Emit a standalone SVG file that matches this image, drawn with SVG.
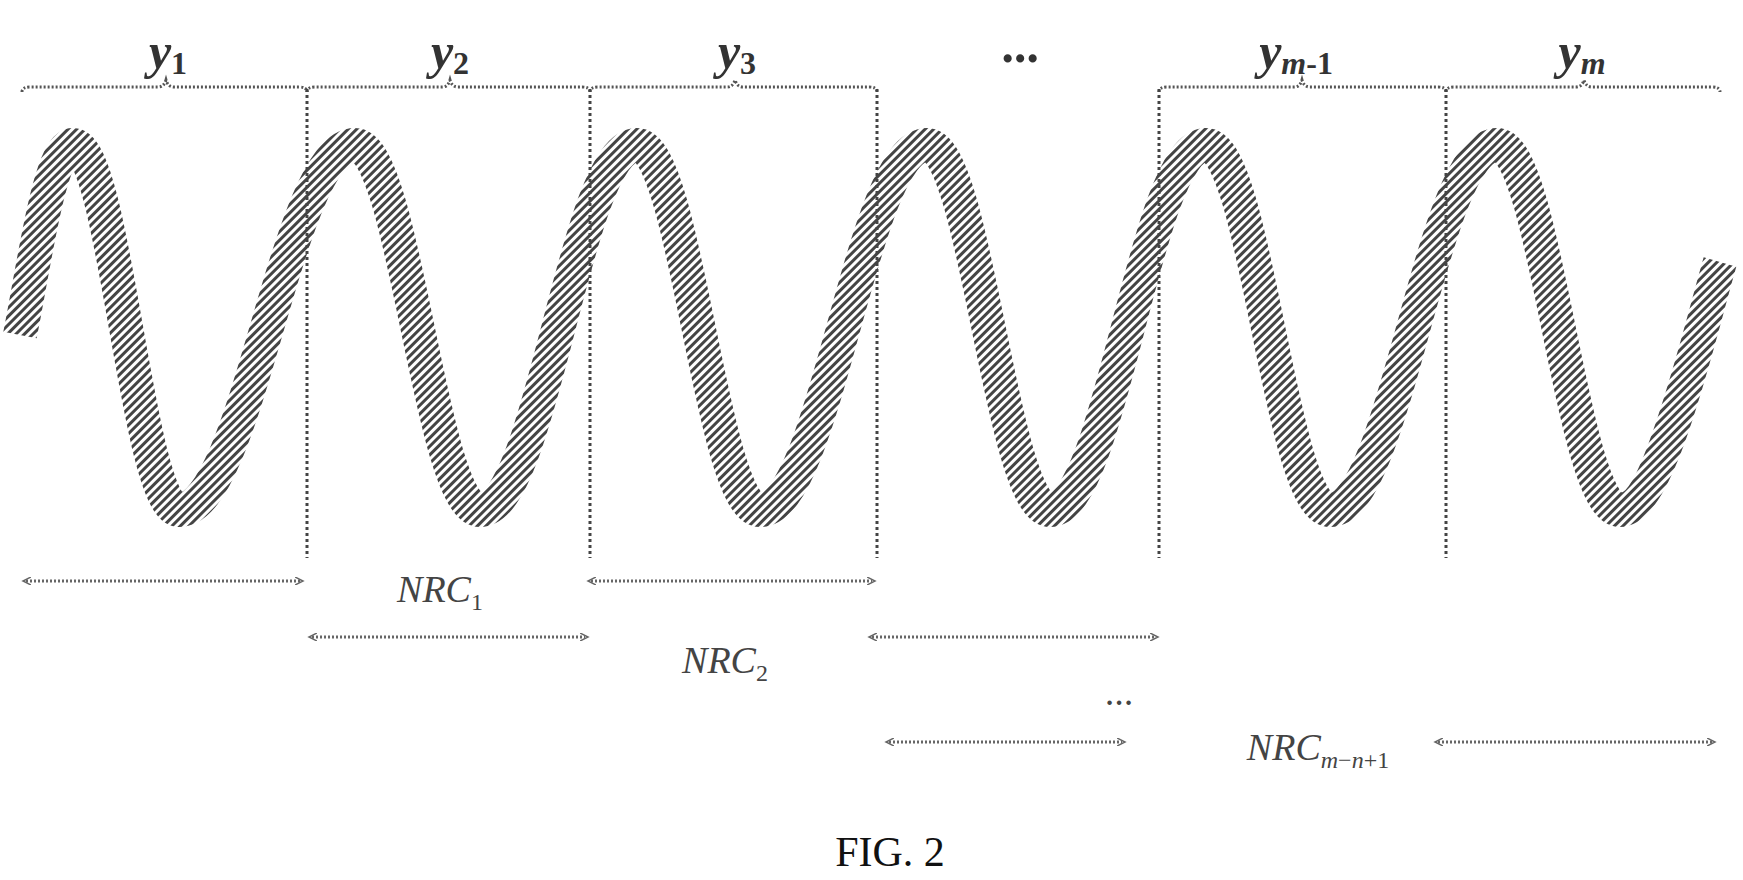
<svg xmlns="http://www.w3.org/2000/svg" width="1743" height="880" viewBox="0 0 1743 880">
<style>
.lbl{font-family:"Liberation Serif",serif;font-style:italic;font-weight:bold;font-size:50px;fill:#333;text-anchor:middle}
.nrc{font-family:"Liberation Serif",serif;font-style:italic;font-size:38px;fill:#444;text-anchor:middle}
.sub{font-style:normal}
.dot{stroke:#555;stroke-width:3;stroke-dasharray:2 2;fill:none}
.div{stroke:#444;stroke-width:3;stroke-dasharray:3 3;fill:none}
.arr{stroke:#666;stroke-width:3;stroke-dasharray:2 2;fill:none;marker-start:url(#ah);marker-end:url(#ah)}
</style>
<defs>
<pattern id="hatch" width="6" height="6" patternUnits="userSpaceOnUse" patternTransform="rotate(45)"><rect width="6" height="6" fill="#fff"/><rect width="3" height="6" fill="#444"/></pattern>
<marker id="ah" markerWidth="10" markerHeight="8" refX="5" refY="4" orient="auto-start-reverse" markerUnits="userSpaceOnUse"><path d="M0,0 L8,4 L0,8" fill="none" stroke="#666" stroke-width="1.5"/></marker>
</defs>
<g id="wave">
<path d="M20,335 C35,260 50,145 73,145 C115,145 137,510 179,510 C249,510 285,145 355,145 C405,145 430,510 480,510 C543,510 574,145 637,145 C686,145 711,510 760,510 C827,510 860,145 927,145 C976,145 1001,510 1050,510 C1112,510 1144,145 1206,145 C1256,145 1280,510 1330,510 C1397,510 1430,145 1497,145 C1546,145 1571,510 1620,510 C1660,510 1700,330 1720,262" fill="none" stroke="url(#hatch)" stroke-width="34"/>
</g>
<g id="braces">
<path class="dot" d="M22,92 Q22,87 30,87 L158,87 Q164,87 166,80 Q168,87 174,87 L299,87 Q307,87 307,92"/>
<path class="dot" d="M307,92 Q307,87 315,87 L442,87 Q448,87 450,80 Q452,87 458,87 L582,87 Q590,87 590,92"/>
<path class="dot" d="M590,92 Q590,87 598,87 L727,87 Q733,87 735,80 Q737,87 743,87 L869,87 Q877,87 877,92"/>
<path class="dot" d="M1159,92 Q1159,87 1167,87 L1294,87 Q1300,87 1302,80 Q1304,87 1310,87 L1438,87 Q1446,87 1446,92"/>
<path class="dot" d="M1446,92 Q1446,87 1454,87 L1576,87 Q1582,87 1584,80 Q1586,87 1592,87 L1712,87 Q1720,87 1720,92"/>
</g>
<g id="dividers">
<line class="div" x1="307" y1="89" x2="307" y2="558"/>
<line class="div" x1="590" y1="89" x2="590" y2="558"/>
<line class="div" x1="877" y1="89" x2="877" y2="558"/>
<line class="div" x1="1159" y1="89" x2="1159" y2="558"/>
<line class="div" x1="1446" y1="89" x2="1446" y2="558"/>
</g>
<g id="labels">
<text class="lbl" x="168" y="68">y<tspan class="sub" font-size="32" dy="6">1</tspan></text>
<text class="lbl" x="450" y="68">y<tspan class="sub" font-size="32" dy="6">2</tspan></text>
<text class="lbl" x="737" y="68">y<tspan class="sub" font-size="32" dy="6">3</tspan></text>
<text class="lbl" x="1022" y="62" font-size="30">...</text>
<text class="lbl" x="1296" y="68">y<tspan font-size="32" dy="6">m</tspan><tspan class="sub" font-size="32">-1</tspan></text>
<text class="lbl" x="1582" y="68">y<tspan font-size="32" dy="6">m</tspan></text>
</g>
<g id="connectors">
<line class="arr" x1="26" y1="581" x2="300" y2="581"/>
<line class="arr" x1="591" y1="581" x2="872" y2="581"/>
<line class="arr" x1="312" y1="637" x2="585" y2="637"/>
<line class="arr" x1="872" y1="637" x2="1155" y2="637"/>
<line class="arr" x1="889" y1="742" x2="1122" y2="742"/>
<line class="arr" x1="1438" y1="742" x2="1712" y2="742"/>
</g>
<g id="nrc">
<text class="nrc" x="440" y="602">NRC<tspan class="sub" font-size="24" dy="8">1</tspan></text>
<text class="nrc" x="725" y="673">NRC<tspan class="sub" font-size="24" dy="8">2</tspan></text>
<text class="nrc" x="1120" y="705" font-size="28">...</text>
<text class="nrc" x="1318" y="760">NRC<tspan font-size="24" dy="8">m</tspan><tspan class="sub" font-size="24">−</tspan><tspan font-size="24">n</tspan><tspan class="sub" font-size="24">+1</tspan></text>
</g>
<text x="890" y="866" font-family="Liberation Serif, serif" font-size="42" text-anchor="middle" fill="#111">FIG. 2</text>
</svg>
